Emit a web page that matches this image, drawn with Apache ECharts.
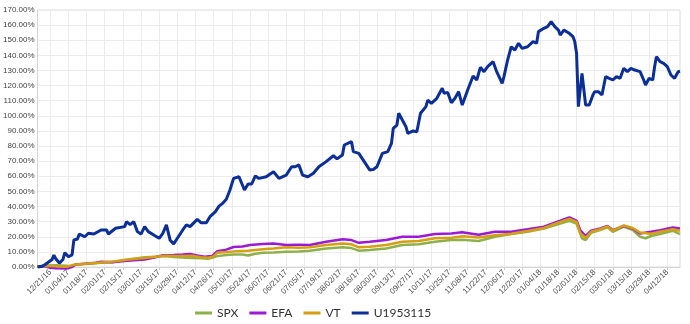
<!DOCTYPE html>
<html>
<head>
<meta charset="utf-8">
<script src="https://cdn.jsdelivr.net/npm/echarts@6/dist/echarts.min.js"></script>
<style>
html,body{margin:0;padding:0;background:#fff;}
#chart{width:690px;height:324px;}
</style>
</head>
<body>
<div id="chart"></div>
<script>
// Trading-day axis: 355 trading days, first labelled tick is day 7 (12/21/16), then every 10 days
const dayCount = 355;
const firstTickDay = 7;
const tickStep = 10;
const tickLabels = ['12/21/16','01/04/17','01/18/17','02/01/17','02/15/17','03/01/17','03/15/17','03/29/17','04/12/17','04/26/17','05/10/17','05/24/17','06/07/17','06/21/17','07/05/17','07/19/17','08/02/17','08/16/17','08/30/17','09/13/17','09/27/17','10/11/17','10/25/17','11/08/17','11/22/17','12/06/17','12/20/17','01/04/18','01/18/18','02/01/18','02/15/18','03/01/18','03/15/18','03/29/18','04/12/18'];

const seriesNames = ['SPX','EFA','VT','U1953115'];

// [trading-day index, cumulative return %]
const spx = [[0,0.2],[5,1.0],[10,1.2],[16,0.8],[18,0.2],[21,1.6],[26,2.0],[35,2.8],[41,3.2],[48,4.6],[53,5.5],[59,6.5],[65,6.8],[70,7.2],[75,6.6],[80,6.3],[85,6.0],[90,5.8],[94,5.5],[97,6.4],[99,7.2],[104,8.0],[108,8.3],[113,8.2],[116,7.6],[120,8.8],[124,9.5],[130,9.6],[137,10.1],[144,10.3],[150,10.8],[159,12.3],[168,13.0],[173,12.5],[177,10.8],[183,11.2],[192,12.3],[201,14.5],[210,15.0],[219,16.7],[228,17.8],[234,18.0],[243,17.2],[252,20.0],[261,21.8],[270,23.3],[279,25.5],[288,28.8],[293,30.6],[297,28.8],[300,19.0],[302,17.8],[305,22.7],[310,24.4],[314,26.2],[317,23.3],[323,26.7],[328,24.4],[332,20.0],[335,19.0],[338,20.5],[343,21.8],[350,24.0],[354,21.8]];

const efa = [[0,0.3],[4,0.5],[7,-0.5],[10,-0.9],[16,-1.0],[19,0],[21,1.6],[26,2.2],[32,2.8],[35,3.5],[41,3.2],[48,4.0],[53,4.4],[59,5.0],[65,6.5],[69,7.8],[75,8.0],[80,8.3],[84,8.6],[88,7.6],[92,6.8],[96,7.2],[99,10.5],[104,11.5],[108,13.2],[113,13.5],[117,14.5],[124,15.2],[130,15.6],[137,14.5],[144,14.8],[150,14.5],[159,16.7],[168,18.3],[173,17.8],[177,16.0],[183,16.7],[192,17.8],[201,20.0],[210,20.0],[219,21.8],[228,22.2],[234,23.0],[243,21.3],[252,23.3],[261,23.3],[270,24.9],[279,26.7],[288,30.6],[293,32.8],[297,30.6],[299,24.5],[302,20.5],[305,24.0],[310,25.5],[314,27.1],[317,24.4],[323,27.1],[328,25.5],[332,22.2],[338,23.3],[343,24.4],[350,26.2],[354,25.5]];

const vt = [[0,0.2],[5,0.8],[10,0.5],[16,0.2],[20,1.5],[26,2.1],[32,2.7],[37,3.2],[43,3.8],[48,4.6],[53,5.3],[59,6.0],[65,6.8],[70,7.4],[75,7.3],[80,7.2],[85,7.4],[90,6.5],[94,6.2],[97,7.0],[99,9.5],[105,10.0],[110,10.5],[116,10.8],[124,11.7],[130,12.2],[137,13.0],[144,12.8],[150,13.0],[159,14.5],[168,15.6],[173,15.0],[177,13.0],[183,13.4],[192,14.5],[201,16.7],[210,17.2],[219,19.0],[228,19.4],[234,20.3],[243,19.5],[252,21.0],[261,22.0],[270,23.8],[279,25.8],[288,29.8],[293,31.8],[297,29.8],[299,22.5],[302,19.2],[305,23.3],[310,25.0],[314,26.8],[317,24.0],[323,27.5],[328,25.8],[332,22.8],[338,22.0],[343,23.3],[350,25.0],[354,24.0]];

const u1953115 = [[0,0],[2,0.3],[4,1.5],[5,2.6],[8,5],[9,7.9],[10,5.5],[12,2.6],[14,5],[15,9.5],[17,6.8],[18,5.5],[19,8],[20,17.9],[22,18.5],[23,21.8],[26,20],[28,22.3],[31,21.8],[35,24.5],[38,24.5],[39,21.8],[43,25.6],[48,26.7],[49,30],[51,28],[53,30],[55,23.4],[57,21.8],[59,26.7],[61,23.4],[64,21.2],[67,19],[69,22.3],[71,27.8],[72,26.7],[73,17.9],[75,15.2],[77,19],[80,24.5],[82,27.8],[84,26.7],[88,31.5],[90,29.3],[93,29.3],[95,33.3],[98,36.6],[100,40.3],[102,42.1],[104,44.8],[106,50.9],[108,58.6],[111,59.7],[112,60.8],[114,50.9],[116,54.9],[118,54.9],[120,60.2],[122,58.6],[123,57.5],[126,59.7],[130,63],[133,58.6],[137,60.8],[140,66.3],[142,66.3],[144,67.5],[146,60.8],[149,59.7],[152,62],[155,66.3],[159,69.7],[163,73.6],[165,71.5],[168,74.1],[169,80.7],[173,82.9],[174,76.3],[177,75.2],[180,69.7],[183,64.2],[185,64.5],[187,66.3],[190,75.2],[193,76.3],[195,81.8],[196,91.7],[198,93.9],[199,101.7],[201,97.2],[203,92.8],[204,88.4],[207,90],[209,89.5],[211,101.7],[214,106.1],[215,110.4],[217,108.3],[220,111.6],[223,118.2],[224,114.9],[226,115.5],[228,108.7],[230,111.6],[232,116],[234,107.1],[235,110.4],[237,117.1],[240,126.3],[242,123.7],[244,132.1],[246,129.2],[248,132.5],[251,135.8],[253,129.2],[256,121.5],[257,125.9],[259,136.9],[261,145.7],[263,143.5],[265,148],[267,144.6],[270,145.7],[273,149.1],[275,148],[276,155.7],[279,157.9],[281,159],[283,162.3],[285,159],[287,156.7],[288,153.4],[290,156.7],[293,154.6],[295,152.4],[296,149.1],[297,141.4],[298,106.1],[300,128.1],[301,128.1],[302,107.1],[304,107.1],[306,113.8],[307,116],[309,116],[311,113.8],[313,125.9],[315,124.8],[317,123.7],[319,125.9],[321,124.8],[323,131.4],[325,129.2],[327,131.4],[329,130.3],[332,129.2],[334,123.7],[335,120.4],[337,124.8],[339,123.7],[340,132.5],[341,139.1],[343,135.8],[345,134.7],[347,132.5],[349,127],[351,124.8],[352,127],[353,129.2],[354,129.5]];

const yMin = 0, yMax = 170, yStep = 10;

const days = [];
for (let i = 0; i < dayCount; i++) days.push(String(i));
const isTick = (idx) => idx >= firstTickDay && (idx - firstTickDay) % tickStep === 0;

const colors = ['#8db04c', '#9b1ad6', '#d69f12', '#0b2f96'];
const allData = [spx, efa, vt, u1953115];

const chart = echarts.init(document.getElementById('chart'), null, {renderer: 'canvas'});
chart.setOption({
  animation: false,
  color: colors,
  grid: {left: 33, right: 10, top: 10, bottom: 57, show: true, borderColor: '#dcdcdc', borderWidth: 1, containLabel: false},
  legend: {
    data: seriesNames,
    left: 190, top: 302,
    icon: 'rect', itemWidth: 17, itemHeight: 3, itemGap: 11,
    textStyle: {fontFamily: 'Lato', fontSize: 12, color: '#333', width: 50}
  },
  xAxis: {
    type: 'category', data: days, boundaryGap: false,
    axisLine: {show: true, lineStyle: {color: '#d6d6d6'}},
    axisTick: {show: true, length: 3, interval: (i) => isTick(i), lineStyle: {color: '#d0d0d0'}},
    splitLine: {show: true, interval: (i) => isTick(i), lineStyle: {color: '#ececec', width: 1}},
    axisLabel: {
      interval: (i) => isTick(i), rotate: 45, margin: 4,
      fontFamily: 'Liberation Sans', fontSize: 8, color: '#555',
      formatter: (v, i) => tickLabels[(Number(v) - firstTickDay) / tickStep] || ''
    }
  },
  yAxis: {
    type: 'value', min: yMin, max: yMax, interval: yStep,
    axisLine: {show: true, lineStyle: {color: '#d6d6d6'}},
    axisTick: {show: false},
    splitLine: {show: true, lineStyle: {color: '#ececec', width: 1}},
    axisLabel: {margin: 3, fontFamily: 'Liberation Sans', fontSize: 8, color: '#444',
      formatter: (v) => v.toFixed(2) + '%'}
  },
  series: seriesNames.map((name, k) => ({
    name: name, type: 'line', data: allData[k], showSymbol: false, symbol: 'none',
    clip: false,
    lineStyle: {width: k === 3 ? 3 : 2.5, color: colors[k]},
    itemStyle: {color: colors[k]},
    z: 2 + k
  }))
});
</script>
</body>
</html>
